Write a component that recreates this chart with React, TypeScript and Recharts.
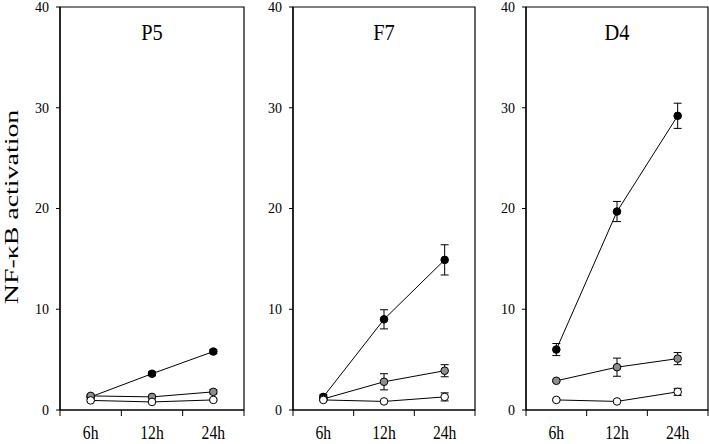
import { LineChart, Line, XAxis, YAxis, ErrorBar, ReferenceArea } from "recharts";

const times = ["6h", "12h", "24h"];
const yTicks = [0, 10, 20, 30, 40];
const xTicks = [0, 1, 2, 3];

// P5
const p5Black = [1.3, 3.6, 5.8];
const p5BlackErr = [0.1, 0.2, 0.2];
const p5Grey = [1.4, 1.3, 1.8];
const p5GreyErr = [0.1, 0.1, 0.2];
const p5White = [0.95, 0.8, 1.0];
const p5WhiteErr = [0.1, 0.1, 0.1];

// F7
const f7Black = [1.3, 9.0, 14.9];
const f7BlackErr = [0.2, 0.95, 1.5];
const f7Grey = [1.1, 2.8, 3.9];
const f7GreyErr = [0.1, 0.8, 0.6];
const f7White = [1.0, 0.85, 1.3];
const f7WhiteErr = [0.1, 0.1, 0.4];

// D4
const d4Black = [6.0, 19.7, 29.2];
const d4BlackErr = [0.6, 1.0, 1.25];
const d4Grey = [2.9, 4.25, 5.1];
const d4GreyErr = [0.1, 0.9, 0.6];
const d4White = [1.0, 0.85, 1.8];
const d4WhiteErr = [0.1, 0.1, 0.35];

const FONT = "'Liberation Serif', 'Times New Roman', serif";
const GREY = "#8e8e8e";

function rows(black: number[], blackErr: number[], grey: number[], greyErr: number[], white: number[], whiteErr: number[]) {
  return times.map((t, i) => ({
    x: i + 0.5,
    time: t,
    black: black[i],
    blackErr: blackErr[i],
    grey: grey[i],
    greyErr: greyErr[i],
    white: white[i],
    whiteErr: whiteErr[i],
  }));
}

const panels = [
  { title: "P5", left: 0, width: 250, yw: 60, mr: 6, data: rows(p5Black, p5BlackErr, p5Grey, p5GreyErr, p5White, p5WhiteErr) },
  { title: "F7", left: 245, width: 235, yw: 48, mr: 5, data: rows(f7Black, f7BlackErr, f7Grey, f7GreyErr, f7White, f7WhiteErr) },
  { title: "D4", left: 480, width: 229, yw: 46, mr: 1, data: rows(d4Black, d4BlackErr, d4Grey, d4GreyErr, d4White, d4WhiteErr) },
];

const series = [
  { key: "black", fill: "#000" },
  { key: "grey", fill: GREY },
  { key: "white", fill: "#fff" },
];

function Panel({ left, width, yw, mr, data }: { left: number; width: number; yw: number; mr: number; data: any[] }) {
  const seg = (width - yw - mr) / 3;
  const XTick = (props: any) => {
    const { x, payload } = props;
    if (payload.value >= 3) return <g />;
    return (
      <text
        transform={`translate(${x + seg / 2}, 439) scale(0.92, 1.08)`}
        textAnchor="middle"
        fontSize={17}
        fontFamily={FONT}
        fill="#000"
      >
        {times[payload.value]}
      </text>
    );
  };
  return (
    <div style={{ position: "absolute", left, top: 0 }}>
      <LineChart width={width} height={444} data={data} margin={{ top: 7, right: mr, bottom: 0, left: 0 }}>
        <ReferenceArea x1={0} x2={3} y1={0} y2={40} fill="none" stroke="#000" strokeWidth={1.2} />
        <XAxis
          dataKey="x"
          type="number"
          domain={[0, 3]}
          ticks={xTicks}
          interval={0}
          height={34}
          axisLine={{ stroke: "#000", strokeWidth: 1.2 }}
          tickLine={{ stroke: "#000" }}
          tickSize={6}
          tick={<XTick />}
        />
        <YAxis
          type="number"
          domain={[0, 40]}
          ticks={yTicks}
          interval={0}
          width={yw}
          axisLine={{ stroke: "#000", strokeWidth: 1.2 }}
          tickLine={{ stroke: "#000" }}
          tickSize={4}
          tickMargin={7}
          tick={{ fontSize: 14, fill: "#000", fontFamily: FONT }}
        />
        {series.map((s) => (
          <Line
            key={s.key}
            dataKey={s.key}
            stroke="#000"
            strokeWidth={1}
            dot={{ r: 3.8, fill: s.fill, stroke: "#000", strokeWidth: 1 }}
            activeDot={false}
            isAnimationActive={false}
          >
            <ErrorBar dataKey={`${s.key}Err`} direction="y" width={4} stroke="#000" strokeWidth={1} />
          </Line>
        ))}
      </LineChart>
    </div>
  );
}

export default function App() {
  return (
    <div style={{ position: "absolute", left: 0, top: 0, width: 709, height: 444, background: "#fff", overflow: "hidden" }}>
      {panels.map((p) => (
        <Panel key={p.title} left={p.left} width={p.width} yw={p.yw} mr={p.mr} data={p.data} />
      ))}
      <svg width={709} height={444} style={{ position: "absolute", left: 0, top: 0, pointerEvents: "none" }}>
        {panels.map((p) => {
          const cx = p.left + p.yw + (p.width - p.yw - p.mr) / 2;
          return (
            <text
              key={p.title}
              transform={`translate(${cx}, 40) scale(0.85, 1)`}
              textAnchor="middle"
              fontSize={24}
              fontFamily={FONT}
              fill="#000"
            >
              {p.title}
            </text>
          );
        })}
        <text
          transform="translate(18, 207) rotate(-90) scale(1.55, 1)"
          textAnchor="middle"
          fontSize={18}
          fontFamily={FONT}
          fill="#000"
        >
          NF-κB activation
        </text>
      </svg>
    </div>
  );
}
